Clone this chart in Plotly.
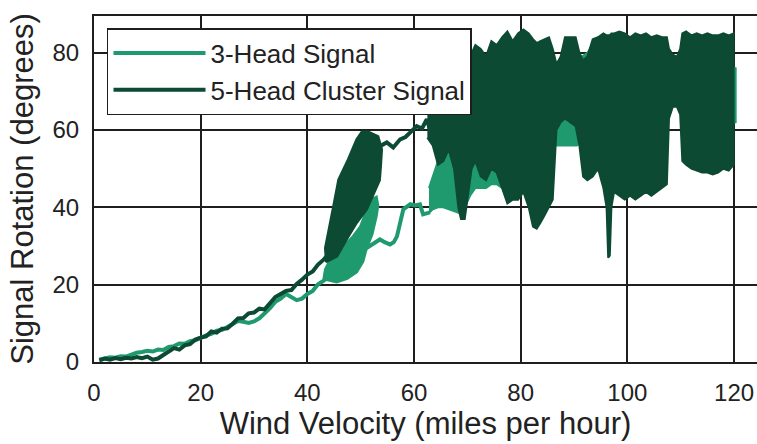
import plotly.graph_objects as go

# ---------------- data ----------------
# 3-Head Signal: sparse path (x in mph, y in degrees)
light_x = [1, 2, 3, 4, 5, 6, 7, 8, 9, 10, 11, 12, 13, 14, 15, 16, 17, 18, 19, 20,
           21, 22, 23, 24, 25, 26, 27, 28, 29, 30, 31, 32, 33, 34, 35, 36, 37, 38, 39, 40,
           41, 42, 43, 44, 47, 50, 53.6, 54.5, 55.5, 56.2, 56.8, 57.4, 58, 59.3, 60.2, 61.1,
           61.7, 63]
light_y = [0.6, 0.9, 1.2, 1.1, 1.5, 1.4, 1.9, 2.4, 2.6, 2.9, 2.7, 3.2, 3.1, 3.9, 4.1, 4.8, 4.7, 5.4, 5.6, 6.4,
           6.9, 7.3, 8.1, 8.3, 9.0, 9.8, 10.6, 10.4, 10.1, 10.5, 11.3, 12.6, 13.9, 15.6, 16.4, 17.6, 16.8, 16.0, 16.4, 17.6,
           18.4, 20.1, 21.0, 22.0, 25.0, 28.5, 31.7, 31.0, 30.4, 31.0, 32.5, 36.0, 39.5, 40.8, 40.5, 40.8,
           38.2, 38.7]

# 3-Head Signal: oscillating cloud near 45-53 mph (outline)
light_blob_x = [43, 45.5, 47.5, 49.3, 50.5, 51.1, 52.2, 53, 53.3, 53, 51.8, 51, 49.9, 48.5, 46.7, 45.3, 44.3, 43.3]
light_blob_y = [21.4, 20.6, 21.5, 23.2, 26, 29.1, 33, 37.7, 40.5, 42.8, 42, 39, 35.1, 32.5, 30, 28, 26.6, 24]

# 3-Head Signal: oscillation envelope above 63 mph
light_env_x = [62.8, 63.5, 64.5, 65.5, 66.5, 67.5, 68.5, 69.5, 70.5, 71.5, 72.5, 73.5, 74.5, 75.5,
               76.5, 77.5, 78.5, 79.5, 80.5, 81.5, 82.5, 83.5, 84.5, 85.5, 86.5, 87.5, 88.5, 89.5,
               90.5, 91.5, 92.5, 93.5, 94.5, 95.5, 96.5, 97.5, 99, 101, 103, 105, 107, 108.5, 110,
               112, 114, 116, 118, 120.3]
light_env_hi = [45, 48, 52, 54, 56, 57, 58, 59, 60, 61, 62, 63, 64, 65,
                66, 67, 70, 74, 77, 76, 75, 74, 73, 73, 76, 78, 78, 78,
                78, 79, 80, 82, 84, 84, 82, 80, 80, 81, 82, 84, 82, 76, 77,
                78, 78, 77, 77, 76]
light_env_lo = [38.5, 39.5, 40, 40, 39.5, 39, 38.5, 40, 43, 45, 45, 45, 46, 46,
                45, 45, 46, 47, 48, 50, 53, 55, 57, 57, 56, 56, 56, 56,
                56, 57, 56, 56, 56, 57, 58, 60, 60, 61, 62, 62, 64, 68, 68,
                62, 62, 61, 61, 62]

# 5-Head Cluster Signal: sparse path
dark_x = [1, 2, 3, 4, 5, 6, 7, 8, 9, 10, 11, 12, 13, 14, 15, 16, 17, 18, 19, 20,
          21, 22, 23, 24, 25, 26, 27, 28, 29, 30, 31, 32, 33, 34, 35, 36, 37, 38, 39, 40,
          41, 42, 43, 44, 46, 48, 50, 52, 53.6, 54.9, 56.1, 57.4, 58.4, 59.3, 60.5, 61.5,
          62.4, 63]
dark_y = [0.4, 0.9, 0.6, 1.0, 0.7, 1.1, 0.9, 1.3, 1.0, 1.4, 0.6, 0.9, 1.8, 2.6, 3.6, 3.2, 4.3, 4.6, 5.8, 6.3,
          6.6, 7.9, 7.6, 8.6, 8.7, 9.9, 11.3, 11.4, 12.6, 12.8, 13.8, 13.6, 15.2, 16.8, 17.6, 18.4, 18.6, 20.2, 21.3, 22.6,
          23.4, 25.2, 26.4, 28.0, 38, 44, 50, 54, 55.8, 56.8, 55.5, 57.6, 58.2, 59.4, 61, 60.4,
          62.8, 60]

# 5-Head Cluster Signal: oscillating cloud near 44-54 mph (outline)
dark_blob_x = [43.5, 45.6, 47.4, 49.3, 51.2, 52.3, 53.6, 53.8, 54.0, 53.3, 51.4, 50.2, 49.2, 47.6, 45.8, 44.8, 44.0, 43.3]
dark_blob_y = [25.8, 27.3, 31.7, 36, 39.5, 42.9, 47, 50.6, 55, 58.4, 59.6, 59.6, 57.6, 52.4, 47.2, 40, 34.3, 29.5]

# 5-Head Cluster Signal: oscillation envelope above 62 mph
dark_env_x = [62.5, 63.5, 64.5, 65.5, 66.5, 67.5, 68.3, 68.8, 69.5, 70.2, 70.8, 71.5, 72.5, 73.5,
              74.5, 75.5, 76.5, 77.5, 78.5, 79.5, 80.5, 81.5, 82.3, 83.0, 83.7, 84.5, 85.3, 86.0,
              86.7, 87.5, 88.3, 89.3, 90.3, 91.0, 91.7, 92.5, 93.5, 94.5, 95.5, 96.1, 96.4, 96.7,
              97.0, 97.5, 98.5, 99.5, 100.5, 101.5, 102.5, 103.5, 104.5, 105.5, 106.5, 107.4, 107.8,
              108.5, 109.3, 109.9, 110.3, 111, 112, 113, 114, 115, 116, 117, 118, 119, 119.9]
dark_env_hi = [64, 72, 76, 76, 76, 76, 76, 77, 77, 78, 80, 82, 81, 79,
               83, 82, 84, 85.5, 83, 85, 86, 85, 83.5, 82.5, 83, 83.5, 84, 81,
               77, 79, 84, 84, 84, 80, 78, 79, 83.5, 84, 85, 84.5, 84.5, 84.5,
               85, 85, 85.5, 85, 84, 85, 84.5, 85, 84, 84.5, 84, 84, 81,
               79.5, 79, 81, 85, 85.5, 84.5, 85, 84.5, 85, 84.5, 84.5, 85, 84.5, 85]
dark_env_lo = [58, 56, 51, 52, 55, 50, 40, 37, 37, 44, 50, 52, 48, 47,
               50, 49, 45, 41, 42, 42, 44, 40, 35, 34.5, 36, 38, 40, 42,
               60, 62, 63, 62, 61, 56, 48, 47, 48, 50, 45, 40, 27, 27.5,
               40, 44, 43, 42, 43, 42, 43, 44, 43, 44, 45, 46, 63,
               66, 66, 64, 52, 51, 50, 49.5, 49, 49, 48.5, 49, 50, 49.5, 51]

x_ticks = [0, 20, 40, 60, 80, 100, 120]
y_ticks = [0, 20, 40, 60, 80]

LIGHT = "#1f9a6f"
DARK = "#0c4a34"
INK = "#1e1e1e"
FONT = "Liberation Sans, Arial, sans-serif"

fig = go.Figure()

# 3-Head Signal
fig.add_trace(go.Scatter(x=light_x, y=light_y, mode="lines", name="3-Head Signal",
                         legendgroup="light", line=dict(color=LIGHT, width=4)))
fig.add_trace(go.Scatter(x=light_blob_x + light_blob_x[:1], y=light_blob_y + light_blob_y[:1],
                         mode="lines", fill="toself", fillcolor=LIGHT, legendgroup="light",
                         showlegend=False, line=dict(color=LIGHT, width=2)))
fig.add_trace(go.Scatter(x=light_env_x + light_env_x[::-1], y=light_env_hi + light_env_lo[::-1],
                         mode="lines", fill="toself", fillcolor=LIGHT, legendgroup="light",
                         showlegend=False, line=dict(color=LIGHT, width=2)))

# 5-Head Cluster Signal
fig.add_trace(go.Scatter(x=dark_x, y=dark_y, mode="lines", name="5-Head Cluster Signal",
                         legendgroup="dark", line=dict(color=DARK, width=4)))
fig.add_trace(go.Scatter(x=dark_blob_x + dark_blob_x[:1], y=dark_blob_y + dark_blob_y[:1],
                         mode="lines", fill="toself", fillcolor=DARK, legendgroup="dark",
                         showlegend=False, line=dict(color=DARK, width=2)))
fig.add_trace(go.Scatter(x=dark_env_x + dark_env_x[::-1], y=dark_env_hi + dark_env_lo[::-1],
                         mode="lines", fill="toself", fillcolor=DARK, legendgroup="dark",
                         showlegend=False, line=dict(color=DARK, width=2)))

axis_common = dict(
    showgrid=True, gridcolor=INK, gridwidth=1.6,
    showline=True, linecolor=INK, linewidth=2,
    zeroline=False, ticks="outside", ticklen=8, tickcolor="rgba(0,0,0,0)",
    tickfont=dict(family=FONT, size=24, color="#222222"),
    ticklabeloverflow="allow",
)

fig.update_layout(
    width=757, height=444,
    margin=dict(l=94, r=0, t=16, b=82),
    paper_bgcolor="white", plot_bgcolor="white",
    font=dict(family=FONT, color="#222222"),
    showlegend=True,
    legend=dict(x=0.0196, y=0.965, xanchor="left", yanchor="top",
                bgcolor="white", bordercolor=INK, borderwidth=1.5,
                font=dict(family=FONT, size=26, color="#222222"),
                itemwidth=92, tracegroupgap=0, traceorder="grouped"),
    xaxis=dict(range=[0, 124.3], tickvals=x_ticks, mirror=True,
               title=dict(text="Wind Velocity (miles per hour)",
                          font=dict(family=FONT, size=31, color="#222222"), standoff=6),
               **axis_common),
    yaxis=dict(range=[0, 89.5], tickvals=y_ticks,
               title=dict(text="Signal Rotation (degrees)",
                          font=dict(family=FONT, size=31, color="#222222"), standoff=10),
               **axis_common),
)

# remove the default page margin so the 757x444 figure fills the window exactly
fig.write_html("out.html",
               config={"displayModeBar": False},
               post_script="document.body.style.margin='0';document.body.style.overflow='hidden';")
